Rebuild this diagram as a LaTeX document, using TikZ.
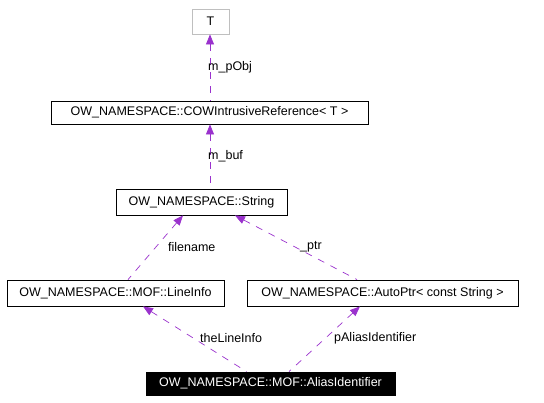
\documentclass[tikz,border=0pt]{standalone}
\usepackage{fontspec}
\setmainfont{Liberation Sans}
\usetikzlibrary{arrows.meta}
\definecolor{edgec}{HTML}{9A32CD}
\tikzset{
  box/.style={draw=black, line width=0.8pt, inner sep=0pt, font=\fontsize{12.5}{14}\selectfont, text=black},
  greybox/.style={box, draw=black!25},
  blackbox/.style={box, fill=black, text=white},
  edge/.style={draw=edgec, line width=0.7pt, dash pattern=on 7pt off 7pt, {Triangle[length=10pt,width=8pt]}-},
  lbl/.style={font=\fontsize{12.5}{14}\selectfont, anchor=west, inner sep=0pt}
}
\begin{document}
\begin{tikzpicture}[x=1pt,y=-1pt]
\useasboundingbox (0,0) rectangle (544,403);
\node[greybox, minimum width=37pt, minimum height=25pt] (t) at (210.5,21.5) {T};
\node[box, minimum width=317pt, minimum height=23pt] (cow) at (209.5,112.5) {OW\_NAMESPACE::COWIntrusiveReference< T >};
\node[box, minimum width=171pt, minimum height=26pt] (str) at (201.5,202) {OW\_NAMESPACE::String};
\node[box, minimum width=217pt, minimum height=26pt] (li) at (115.5,293) {OW\_NAMESPACE::MOF::LineInfo};
\node[box, minimum width=271pt, minimum height=26pt] (ap) at (382.5,293) {OW\_NAMESPACE::AutoPtr< const String >};
\node[blackbox, minimum width=249pt, minimum height=23pt] (ai) at (270.5,383.5) {OW\_NAMESPACE::MOF::AliasIdentifier};

\draw[edge] ([xshift=-0.5pt]t.south) -- ([xshift=0.5pt]cow.north);
\draw[edge] ([xshift=0.5pt]cow.south) -- ([xshift=8.5pt]str.north);
\draw[edge] ([xshift=-18.5pt]str.south) -- ([xshift=12.5pt]li.north);
\draw[edge] ([xshift=33.5pt]str.south) -- ([xshift=-25.5pt]ap.north);
\draw[edge] ([xshift=27.5pt]li.south) -- ([xshift=-24pt]ai.north);
\draw[edge] ([xshift=-22.5pt]ap.south) -- ([xshift=18.5pt]ai.north);

\node[lbl] (l1) at (208,67) {m\_pObj};
\node[lbl] (l2) at (208,156) {m\_buf};
\node[lbl] (l3) at (168,247) {filename};
\node[lbl] (l4) at (300,247) {\_ptr};
\node[lbl] (l5) at (200,338) {theLineInfo};
\node[lbl] (l6) at (334,338) {pAliasIdentifier};
\end{tikzpicture}
\end{document}
